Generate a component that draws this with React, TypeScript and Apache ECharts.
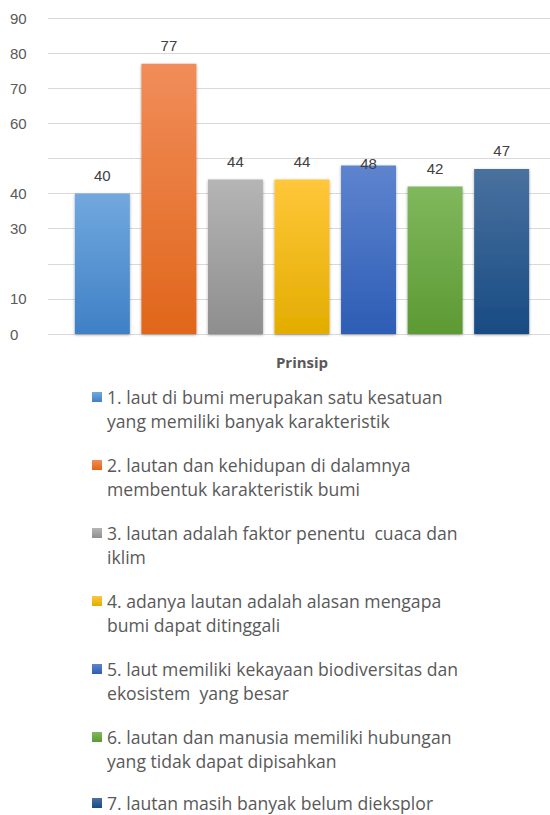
import React, { useEffect, useRef } from "react";
import * as echarts from "echarts";

const categories = ["Prinsip"];
const seriesNames = [
  "1. laut di bumi merupakan satu kesatuan\nyang memiliki banyak karakteristik",
  "2. lautan dan kehidupan di dalamnya\nmembentuk karakteristik bumi",
  "3. lautan adalah faktor penentu  cuaca dan\niklim",
  "4. adanya lautan adalah alasan mengapa\nbumi dapat ditinggali",
  "5. laut memiliki kekayaan biodiversitas dan\nekosistem  yang besar",
  "6. lautan dan manusia memiliki hubungan\nyang tidak dapat dipisahkan",
  "7. lautan masih banyak belum dieksplor",
];
const values = [40, 77, 44, 44, 48, 42, 47];
const yTickLabels = ["0", "10", "", "30", "40", "", "60", "70", "80", "90"];

const topColors = ["#72a8de", "#f18d5a", "#b5b5b5", "#ffc73a", "#5e84cf", "#80b85d", "#49719f"];
const bottomColors = ["#3f80c6", "#e0661a", "#8e8e8e", "#e3ad00", "#2d5db5", "#5c9a33", "#184b83"];

export default function App() {
  const ref = useRef<HTMLDivElement>(null);
  useEffect(() => {
    if (!ref.current) return;
    const chart = echarts.init(ref.current, null, { renderer: "svg" });
    const series = values.map((v, i) => ({
      type: "bar",
      name: seriesNames[i],
      barWidth: 55,
      barGap: "21%",
      data: [
        {
          value: v,
          label: i === 4 ? { offset: [0, 17] } : {},
        },
      ],
      itemStyle: {
        color: new echarts.graphic.LinearGradient(0, 0, 0, 1, [
          { offset: 0, color: topColors[i] },
          { offset: 1, color: bottomColors[i] },
        ]),
        shadowBlur: 3,
        shadowColor: "rgba(0,0,0,0.35)",
        shadowOffsetY: 1,
      },
      label: {
        show: true,
        position: "top",
        distance: 11,
        color: "#404040",
        fontSize: 15,
        fontFamily: "Liberation Sans",
      },
    }));
    const legendText = {
      color: "#595959",
      fontSize: 17.6,
      fontFamily: "Open Sans",
      lineHeight: 24,
    };
    chart.setOption({
      animation: false,
      backgroundColor: "#ffffff",
      grid: { left: 48, top: 18, width: 508, height: 316, outerBoundsMode: "none", containLabel: false },
      xAxis: {
        type: "category",
        data: categories,
        axisLine: { show: false },
        axisTick: { show: false },
        axisLabel: {
          color: "#595959",
          fontSize: 15,
          fontWeight: "bold",
          fontFamily: "Open Sans",
          margin: 20,
        },
      },
      yAxis: {
        type: "value",
        min: 0,
        max: 90,
        interval: 10,
        axisLine: { show: false },
        axisTick: { show: false },
        splitLine: { lineStyle: { color: "#d9d9d9", width: 1 } },
        axisLabel: {
          align: "left",
          margin: 38,
          color: "#595959",
          fontSize: 15,
          fontFamily: "Liberation Sans",
          formatter: (v: number) => yTickLabels[Math.round(v / 10)] ?? "",
        },
      },
      legend: [
        {
          orient: "vertical",
          left: 92,
          top: 361,
          height: 560,
          padding: 0,
          itemGap: -4,
          itemWidth: 10,
          itemHeight: 10,
          icon: "rect",
          data: seriesNames.slice(0, 6),
          formatter: (n: string) => "\n" + n,
          textStyle: legendText,
        },
        {
          orient: "vertical",
          left: 92,
          top: 792,
          padding: 0,
          itemWidth: 10,
          itemHeight: 10,
          icon: "rect",
          data: seriesNames.slice(6),
          textStyle: { ...legendText, lineHeight: 22 },
        },
      ],
      series,
    });
    return () => chart.dispose();
  }, []);
  return (
    <div
      ref={ref}
      style={{ position: "absolute", left: 0, top: 0, width: 550, height: 815 }}
    />
  );
}
